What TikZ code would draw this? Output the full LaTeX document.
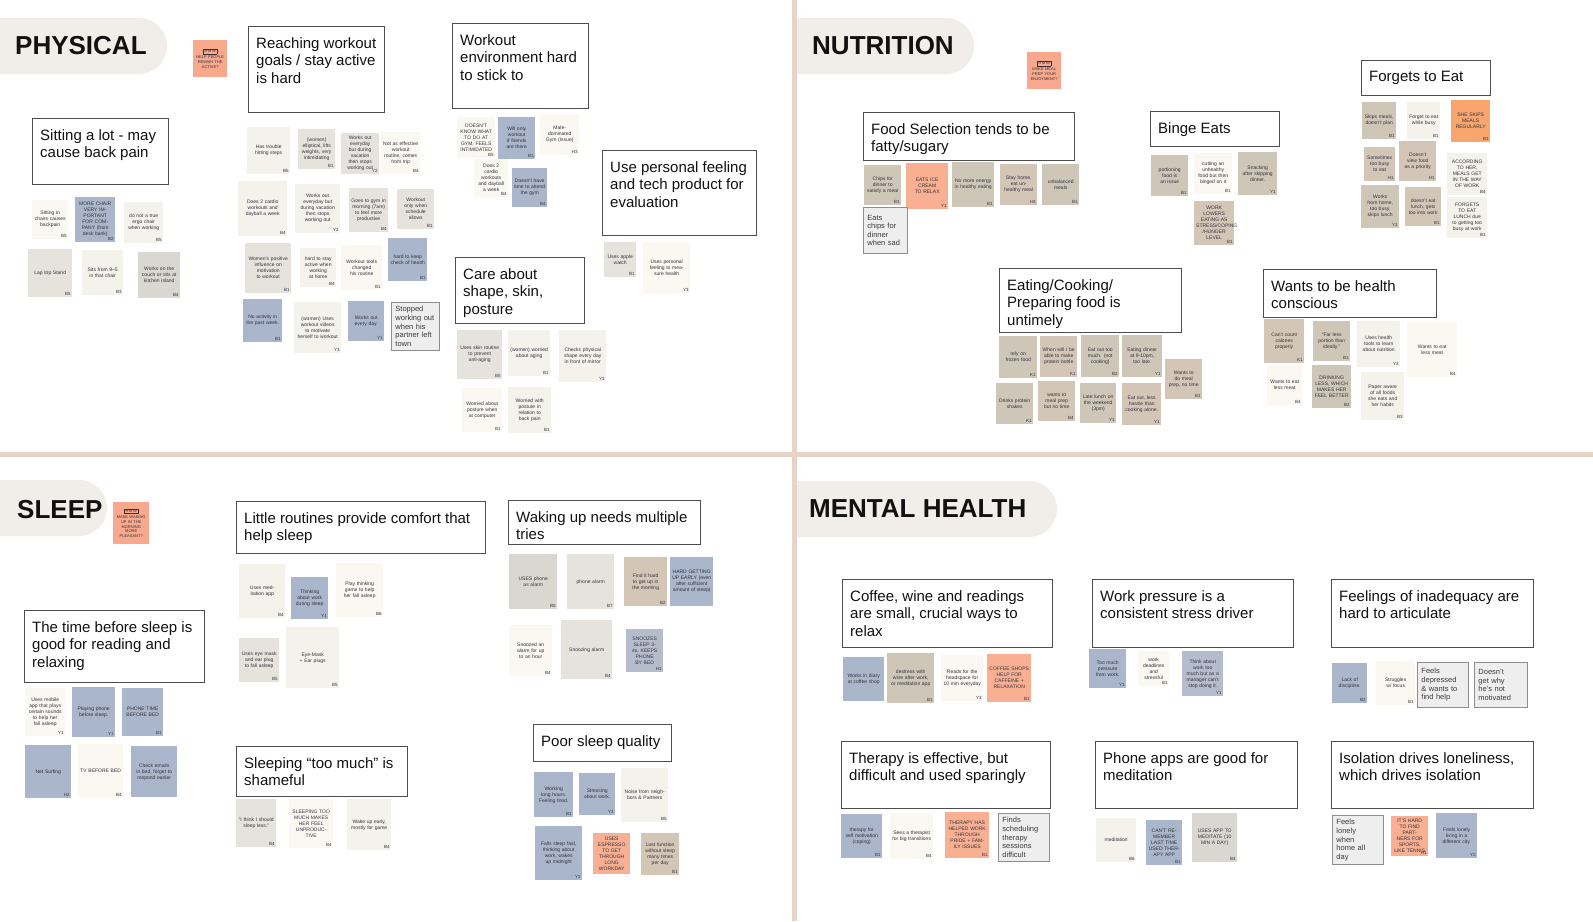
\documentclass[tikz,border=0pt]{standalone}
\usepackage{fontspec}
\setmainfont{Liberation Sans}
\usepackage{xcolor}
\usepackage{tikz}
\definecolor{ink}{HTML}{111111}
\definecolor{scrawl}{HTML}{33323C}
\definecolor{tabgrey}{HTML}{F1EEEA}
\definecolor{divider}{HTML}{E6D4C9}
\definecolor{boxline}{HTML}{4D4D4D}
\definecolor{typedfill}{HTML}{EEEEEE}
\definecolor{typedline}{HTML}{8E8E8E}
\definecolor{typedink}{HTML}{3A3A3A}
\definecolor{hmwpink}{HTML}{F8A98D}
\definecolor{noteblue}{HTML}{AAB6CB}
\definecolor{noteblueb}{HTML}{B5BCCC}
\definecolor{notetan}{HTML}{CEC6B7}
\definecolor{notetanb}{HTML}{D3C6B7}
\definecolor{notesalmon}{HTML}{F9AF92}
\definecolor{noteorange}{HTML}{F9A66E}
\definecolor{notecream}{HTML}{FBF8F1}
\definecolor{noteoff}{HTML}{F3F2EB}
\definecolor{notegrey}{HTML}{E6E3DC}
\definecolor{notegreyb}{HTML}{DAD7D0}
\setlength{\fboxsep}{0.8pt}
\setlength{\fboxrule}{0.3pt}
\tikzset{
  tabtext/.style={font=\fontsize{26}{30}\selectfont\bfseries, text=ink, inner sep=0pt},
  cluster/.style={draw=boxline, line width=1.2pt, fill=white, inner sep=0pt},
  clustertext/.style={font=\fontsize{15}{17.5}\selectfont, text=ink, align=left, inner sep=0pt},
  postit/.style={inner sep=2pt, font=\fontsize{5}{6}\selectfont, text=scrawl, align=center},
  sig/.style={label={[anchor=south east, inner sep=1.5pt, font=\fontsize{4.5}{5}\selectfont, text=scrawl]south east:#1}},
  typed/.style={draw=typedline, fill=typedfill, line width=0.9pt, inner sep=4pt, font=\fontsize{7.5}{8.6}\selectfont, text=typedink, align=left},
  hmw/.style={fill=hmwpink, inner sep=2pt, font=\fontsize{4}{4.8}\selectfont, text=scrawl, align=center},
}
% sticky note: name, colour, x, y, width, height, text, code
\newcommand{\postit}[8]{%
  \pgfmathsetlengthmacro\tw{#5-4}%
  \node[postit, fill=#2, minimum width=#5, minimum height=#6, text width=\tw, anchor=north west, sig={#8}] (#1) at (#3,#4) {#7};}
% typed note: name, x, y, width, height, text
\newcommand{\typednote}[6]{%
  \pgfmathsetlengthmacro\tw{#4-8}%
  \node[typed, minimum width=#4, minimum height=#5, text width=\tw, anchor=north west] (#1) at (#2,#3) {#6};}
% cluster heading: name, x, y, width, height, text
\newcommand{\cluster}[6]{%
  \node[cluster, minimum width=#4, minimum height=#5, anchor=north west] (#1) at (#2,#3) {};
  \node[clustertext, anchor=north west] (#1-t) at ([shift={(8,11)}]#1.north west) {#6};}

\begin{document}
\begin{tikzpicture}[x=1pt,y=-1pt]
  \useasboundingbox (0,0) rectangle (1593,921);
  \clip (0,0) rectangle (1593,921);
  \fill[white] (0,0) rectangle (1593,921);
  % quadrant dividers
  \fill[divider] (0,452) rectangle (1593,457);
  \fill[divider] (792,0) rectangle (797,921);
  % section tabs
  \fill[tabgrey, rounded corners=28pt] (-40,18) rectangle (167,74);
  \fill[tabgrey, rounded corners=28pt] (-40,480) rectangle (107,536);
  \begin{scope}
    \clip (797,0) rectangle (1593,921);
    \fill[tabgrey, rounded corners=28pt] (760,18) rectangle (974,74);
    \fill[tabgrey, rounded corners=28pt] (760,481) rectangle (1057,537);
  \end{scope}
  \node[tabtext, anchor=base west] (physical) at (15,54) {PHYSICAL};
  \node[tabtext, anchor=base west] (nutrition) at (812,54) {NUTRITION};
  \node[tabtext, anchor=base west] (sleep) at (17,518) {SLEEP};
  \node[tabtext, anchor=base west] (mental) at (809,517) {MENTAL HEALTH};
  % how-might-we notes
  \node[hmw, minimum width=34, minimum height=37, text width=30pt, anchor=north west] (hmw-phys) at (193,40) {\fbox{H\,M\,W}\\[1pt] HELP PEOPLE\\ REMAIN THE\\ ACTIVE?};
  \node[hmw, minimum width=34, minimum height=37, text width=30pt, anchor=north west] (hmw-food) at (1027,52) {\fbox{H\,M\,W}\\[1pt] MAKE MEAL\\ PREP YOUR\\ ENJOYMENT?};
  \node[hmw, minimum width=36, minimum height=42, text width=32pt, anchor=north west] (hmw-sleep) at (113,502) {\fbox{H\,M\,W}\\[1pt] MAKE WAKING\\ UP IN THE\\ MORNING MORE\\ PLEASANT?};

  % ---------------- PHYSICAL ----------------
  \cluster{sitting}{32}{118}{136}{66}{Sitting a lot - may\\cause back pain}
  \postit{n1}{notecream}{32}{200}{36}{39}{Sitting in chairs causes backpain}{B5}
  \postit{n2}{noteblue}{75}{197}{40}{45}{MORE CHAIR VERY IMPORTANT FOR COMPANY (from desk bank)}{B2}
  \postit{n3}{noteoff}{124}{202}{39}{41}{do not a true ergo chair when working}{B5}
  \postit{n4}{notegrey}{28}{249}{44}{48}{Lap top Stand}{B5}
  \postit{n5}{noteoff}{82}{250}{41}{45}{Sits from 9--5 in that chair}{B3}
  \postit{n6}{notegreyb}{138}{252}{42}{46}{Works on the couch or sits at kitchen island}{B4}

  \cluster{reach}{248}{26}{136}{86}{Reaching workout\\goals / stay active\\is hard}
  \postit{r1}{noteoff}{247}{127}{43}{47}{Has trouble hitting steps}{B5}
  \postit{r2}{notegrey}{298}{129}{37}{40}{(women) elliptical, lifts weights, very intimidating}{B1}
  \postit{r3}{notegrey}{341}{133}{38}{41}{Works out everyday but during vacation then stops working out}{Y2}
  \postit{r4}{notecream}{381}{132}{39}{42}{Not as effective workout routine, comes from trip}{B4}
  \postit{r5}{noteoff}{238}{181}{49}{55}{Does 2 cardio workouts and dayball a week}{B4}
  \postit{r6}{noteoff}{295}{184}{45}{49}{Works out everyday but during vacation then stops working out}{Y2}
  \postit{r7}{notegrey}{349}{188}{39}{44}{Goes to gym in morning (7am) to feel more productive}{B4}
  \postit{r8}{notegrey}{397}{189}{37}{40}{Workout only when schedule allows}{B1}
  \postit{r9}{notegrey}{245}{243}{46}{50}{Women's positive influence on motivation to workout}{B1}
  \postit{r10}{noteoff}{300}{248}{36}{39}{hard to stay active when working at home}{B4}
  \postit{r11}{notecream}{341}{245}{41}{45}{Workout tools changed his routine}{B1}
  \postit{r12}{noteblue}{388}{238}{39}{43}{hard to keep check of health}{B1}
  \postit{r13}{noteblue}{243}{299}{39}{43}{No activity in the past week.}{B1}
  \postit{r14}{noteoff}{294}{302}{47}{51}{(women) Uses workout videos to motivate herself to workout}{Y3}
  \postit{r15}{noteblue}{348}{301}{36}{40}{Works out every day.}{Y1}
  \typednote{r16}{391}{302}{48}{44}{Stopped\\working out\\when his\\partner left\\town}

  \cluster{gym}{452}{23}{136}{85}{Workout\\environment hard\\to stick to}
  \postit{w1}{notecream}{457}{117}{38}{41}{DOESN'T KNOW WHAT TO DO AT GYM, FEELS INTIMIDATED}{B5}
  \postit{w2}{noteblue}{498}{117}{37}{42}{Will only workout if friends are there}{B1}
  \postit{w3}{notecream}{540}{114}{39}{41}{Male-dominated Gym (Issue)}{H3}
  \postit{w4}{notecream}{474}{159}{34}{38}{Does 2 cardio workouts and dayball a week}{B4}
  \postit{w5}{noteblue}{512}{168}{35}{39}{Doesn't have time to attend the gym}{B4}

  \cluster{feeling}{602}{150}{154}{85}{Use personal feeling\\and tech product for\\evaluation}
  \postit{u1}{notegrey}{604}{242}{32}{35}{Uses apple watch}{B1}
  \postit{u2}{notecream}{643}{242}{47}{51}{Uses personal feeling to measure health}{Y3}

  \cluster{care}{455}{257}{129}{66}{Care about\\shape, skin,\\posture}
  \postit{c1}{notegrey}{457}{330}{45}{49}{Uses skin routine to prevent anti-aging}{B5}
  \postit{c2}{noteoff}{508}{330}{42}{46}{(women) worried about aging}{B1}
  \postit{c3}{noteoff}{559}{330}{47}{52}{Checks physical shape every day in front of mirror}{Y3}
  \postit{c4}{notecream}{462}{388}{40}{44}{Worried about posture when at computer}{B1}
  \postit{c5}{noteoff}{508}{387}{43}{46}{Worried with posture in relation to back pain}{B1}

  % ---------------- NUTRITION ----------------
  \cluster{fatty}{863}{112}{211}{48}{Food Selection tends to be\\fatty/sugary}
  \postit{f1}{notetan}{864}{165}{37}{40}{Chips for dinner to satisfy a meal}{B1}
  \postit{f2}{notesalmon}{906}{163}{42}{46}{EATS ICE CREAM TO RELAX}{Y1}
  \postit{f3}{notetan}{952}{162}{42}{45}{No more energy in healthy eating}{B1}
  \postit{f4}{notetanb}{1000}{164}{37}{41}{Stay home, eat unhealthy meal}{H3}
  \postit{f5}{notetan}{1042}{164}{37}{41}{unbalanced meals}{B1}
  \typednote{f6}{863}{207}{44}{46}{Eats\\chips for\\dinner\\when sad}

  \cluster{binge}{1150}{111}{129}{35}{Binge Eats}
  \postit{b1}{notetan}{1151}{155}{37}{41}{portioning food is an issue}{B1}
  \postit{b2}{notecream}{1194}{153}{38}{41}{cutting an unhealthy food but then binged on it}{B1}
  \postit{b3}{notetan}{1238}{152}{39}{43}{Snacking after skipping dinner.}{Y1}
  \postit{b4}{notetanb}{1194}{201}{40}{44}{WORK LOWERS EATING AS STRESS/COPING /HUNGER LEVEL}{B1}

  \cluster{forgets}{1361}{60}{129}{35}{Forgets to Eat}
  \postit{fe1}{notetan}{1362}{102}{34}{37}{Skips meals, doesn't plan}{B1}
  \postit{fe2}{noteoff}{1407}{102}{33}{37}{Forget to eat while busy}{B1}
  \postit{fe3}{noteorange}{1451}{100}{39}{42}{SHE SKIPS MEALS REGULARLY}{B1}
  \postit{fe4}{notetanb}{1364}{147}{31}{34}{Sometimes too busy to eat}{H1}
  \postit{fe5}{notetanb}{1399}{141}{37}{40}{Doesn't view food as a priority}{H1}
  \postit{fe6}{noteoff}{1447}{153}{40}{42}{ACCORDING TO HER, MEALS GET IN THE WAY OF WORK}{B4}
  \postit{fe7}{notetan}{1361}{185}{38}{43}{Works from home, too busy, skips lunch}{Y2}
  \postit{fe8}{notetanb}{1405}{187}{36}{39}{doesn't eat lunch, gets too into work}{B1}
  \postit{fe9}{noteoff}{1447}{197}{40}{41}{FORGETS TO EAT LUNCH due to getting too busy at work}{B1}

  \cluster{untimely}{999}{268}{182}{64}{Eating/Cooking/\\Preparing food is\\untimely}
  \postit{e1}{notetan}{999}{336}{38}{42}{rely on frozen food}{K1}
  \postit{e2}{notetanb}{1040}{336}{37}{41}{When will I be able to make protein bottle}{K1}
  \postit{e3}{notetan}{1081}{335}{38}{42}{Eat out too much. (not cooking)}{B2}
  \postit{e4}{notetan}{1122}{335}{40}{42}{Eating dinner at 9-10pm, too late.}{Y1}
  \postit{e5}{notetanb}{1165}{359}{37}{40}{Wants to do meal prep, no time}{B1}
  \postit{e6}{notetan}{996}{383}{37}{41}{Drinks protein shakes}{K1}
  \postit{e7}{notetanb}{1038}{381}{37}{40}{wants to meal prep but no time}{B4}
  \postit{e8}{notetan}{1080}{383}{36}{40}{Late lunch on the weekend (3pm)}{Y1}
  \postit{e9}{notetanb}{1122}{383}{39}{42}{Eat out, less hassle than cooking alone.}{Y1}

  \cluster{conscious}{1263}{269}{173}{48}{Wants to be health\\conscious}
  \postit{h1}{notetanb}{1264}{319}{40}{44}{Can't count calories properly}{K1}
  \postit{h2}{notetan}{1313}{321}{37}{40}{``Far less portion than ideally.''}{B1}
  \postit{h3}{noteoff}{1357}{321}{43}{46}{Uses health tools to learn about nutrition}{Y3}
  \postit{h4}{notecream}{1407}{322}{50}{55}{Wants to eat less meat}{B4}
  \postit{h5}{notecream}{1267}{365}{35}{40}{Wants to eat less meat}{B4}
  \postit{h6}{notetan}{1312}{365}{39}{43}{DRINKING LESS, WHICH MAKES HER FEEL BETTER}{B2}
  \postit{h7}{noteoff}{1361}{372}{43}{48}{Paper aware of all foods she eats and her habits}{B3}

  % ---------------- SLEEP ----------------
  \cluster{bedtime}{24}{610}{180}{72}{The time before sleep is\\good for reading and\\relaxing}
  \postit{t1}{notecream}{25}{688}{40}{48}{Uses mobile app that plays certain sounds to help her fall asleep}{Y1}
  \postit{t2}{noteblue}{72}{687}{43}{50}{Playing phone before sleep.}{Y1}
  \postit{t3}{noteblue}{122}{688}{41}{48}{PHONE TIME BEFORE BED}{B1}
  \postit{t4}{noteblue}{25}{745}{46}{53}{Net Surfing}{H2}
  \postit{t5}{notecream}{78}{744}{45}{54}{TV BEFORE BED}{B4}
  \postit{t6}{noteblue}{131}{746}{46}{51}{Check emails in bed, forget to respond earlier}{}

  \cluster{routine}{236}{501}{249}{52}{Little routines provide comfort that\\help sleep}
  \postit{l1}{noteoff}{239}{564}{46}{54}{Uses meditation app}{B4}
  \postit{l2}{noteblue}{291}{577}{37}{42}{Thinking about work during sleep}{Y1}
  \postit{l3}{notecream}{336}{563}{47}{54}{Play thinking game to help her fall asleep}{B6}
  \postit{l4}{notegrey}{239}{638}{40}{44}{Uses eye mask and ear plug to fall asleep}{B5}
  \postit{l5}{noteoff}{286}{627}{53}{61}{Eye-Mask + Ear plugs}{B5}

  \cluster{shame}{236}{746}{171}{50}{Sleeping “too much” is\\shameful}
  \postit{s1}{notegrey}{236}{799}{40}{48}{“I think I should sleep less.”}{B4}
  \postit{s2}{notecream}{289}{799}{44}{49}{SLEEPING TOO MUCH MAKES HER FEEL UNPRODUC\-TIVE}{B4}
  \postit{s3}{noteoff}{347}{799}{44}{51}{Wake up early, mostly for game}{B4}

  \cluster{waking}{508}{500}{192}{44}{Waking up needs multiple\\tries}
  \postit{wk1}{notegreyb}{509}{554}{48}{55}{USES phone as alarm}{B5}
  \postit{wk2}{notegrey}{567}{554}{47}{55}{phone alarm}{B7}
  \postit{wk3}{notetanb}{624}{557}{43}{49}{Find it hard to get up in the morning}{B2}
  \postit{wk4}{noteblue}{670}{557}{43}{49}{HARD GETTING UP EARLY (even after sufficient amount of sleep)}{}
  \postit{wk5}{notecream}{509}{625}{43}{51}{Snoozed an alarm for up to an hour}{B4}
  \postit{wk6}{notegrey}{561}{620}{51}{59}{Snoozing alarm}{B4}
  \postit{wk7}{noteblueb}{626}{629}{37}{43}{SNOOZES SLEEP 3-4x, KEEPS PHONE BY BED}{H1}

  \cluster{quality}{533}{724}{138}{37}{Poor sleep quality}
  \postit{p1}{noteblue}{534}{772}{39}{45}{Working long hours. Feeling tired.}{B1}
  \postit{p2}{noteblue}{579}{773}{36}{42}{Stressing about work.}{Y2}
  \postit{p3}{noteoff}{621}{768}{47}{54}{Noise from neighbors \& Partners}{B5}
  \postit{p4}{noteblue}{535}{826}{47}{54}{Falls sleep fast, thinking about work, wakes up midnight}{Y2}
  \postit{p5}{notesalmon}{593}{833}{37}{41}{USES ESPRESSO TO GET THROUGH LONG WORKDAY}{}
  \postit{p6}{notetanb}{641}{833}{38}{42}{Lost function without sleep many times per day}{B1}

  % ---------------- MENTAL HEALTH ----------------
  \cluster{coffee}{842}{579}{210}{68}{Coffee, wine and readings\\are small, crucial ways to\\relax}
  \postit{m1}{noteblue}{843}{657}{41}{44}{Works in diary at coffee shop}{}
  \postit{m2}{notetan}{887}{653}{47}{50}{destress with wine after work, or meditation app}{B1}
  \postit{m3}{notecream}{941}{655}{42}{46}{Reads for the headspace for 10 min everyday}{Y3}
  \postit{m4}{notesalmon}{987}{654}{44}{48}{COFFEE SHOPS HELP FOR CAFFEINE + RELAXATION}{B1}

  \cluster{pressure}{1092}{579}{201}{68}{Work pressure is a\\consistent stress driver}
  \postit{wp1}{noteblue}{1089}{649}{37}{39}{Too much pressure from work.}{Y1}
  \postit{wp2}{notecream}{1138}{651}{31}{35}{work deadlines and stressful}{B1}
  \postit{wp3}{noteblueb}{1182}{651}{41}{45}{Think about work too much but as a manager can't stop doing it.}{Y1}

  \cluster{inadequacy}{1331}{579}{202}{68}{Feelings of inadequacy are\\hard to articulate}
  \postit{fi1}{noteblue}{1332}{663}{35}{40}{Lack of discipline.}{B2}
  \postit{fi2}{notecream}{1376}{661}{39}{44}{Struggles w/ focus}{B1}
  \typednote{fi3}{1417}{662}{51}{45}{Feels\\depressed\\\& wants to\\find help}
  \typednote{fi4}{1474}{662}{53}{45}{Doesn’t\\get why\\he’s not\\motivated}

  \cluster{therapy}{841}{741}{209}{67}{Therapy is effective, but\\difficult and used sparingly}
  \postit{th1}{noteblue}{841}{814}{41}{44}{therapy for self motivation (coping)}{B1}
  \postit{th2}{notecream}{890}{813}{43}{46}{Sees a therapist for big transitions}{B4}
  \postit{th3}{notesalmon}{945}{812}{44}{46}{THERAPY HAS HELPED WORK THROUGH PRIDE + FAMILY ISSUES}{B1}
  \typednote{th4}{998}{813}{51}{47}{Finds\\scheduling\\therapy\\sessions\\difficult}

  \cluster{apps}{1095}{741}{202}{67}{Phone apps are good for\\meditation}
  \postit{pa1}{noteoff}{1096}{818}{40}{44}{meditation}{B6}
  \postit{pa2}{noteblue}{1146}{820}{36}{45}{CAN'T REMEMBER LAST TIME USED THERAPY APP}{B1}
  \postit{pa3}{notegreyb}{1192}{813}{45}{49}{USES APP TO MEDITATE (10 MIN A DAY)}{B4}

  \cluster{isolation}{1331}{741}{202}{67}{Isolation drives loneliness,\\which drives isolation}
  \typednote{is1}{1332}{815}{51}{47}{Feels\\lonely\\when\\home all\\day}
  \postit{is2}{notesalmon}{1391}{816}{37}{40}{IT'S HARD TO FIND PARTNERS FOR SPORTS, LIKE TENNIS}{H1}
  \postit{is3}{noteblue}{1436}{813}{41}{45}{Feels lonely living in a different city.}{Y2}
\end{tikzpicture}
\end{document}
